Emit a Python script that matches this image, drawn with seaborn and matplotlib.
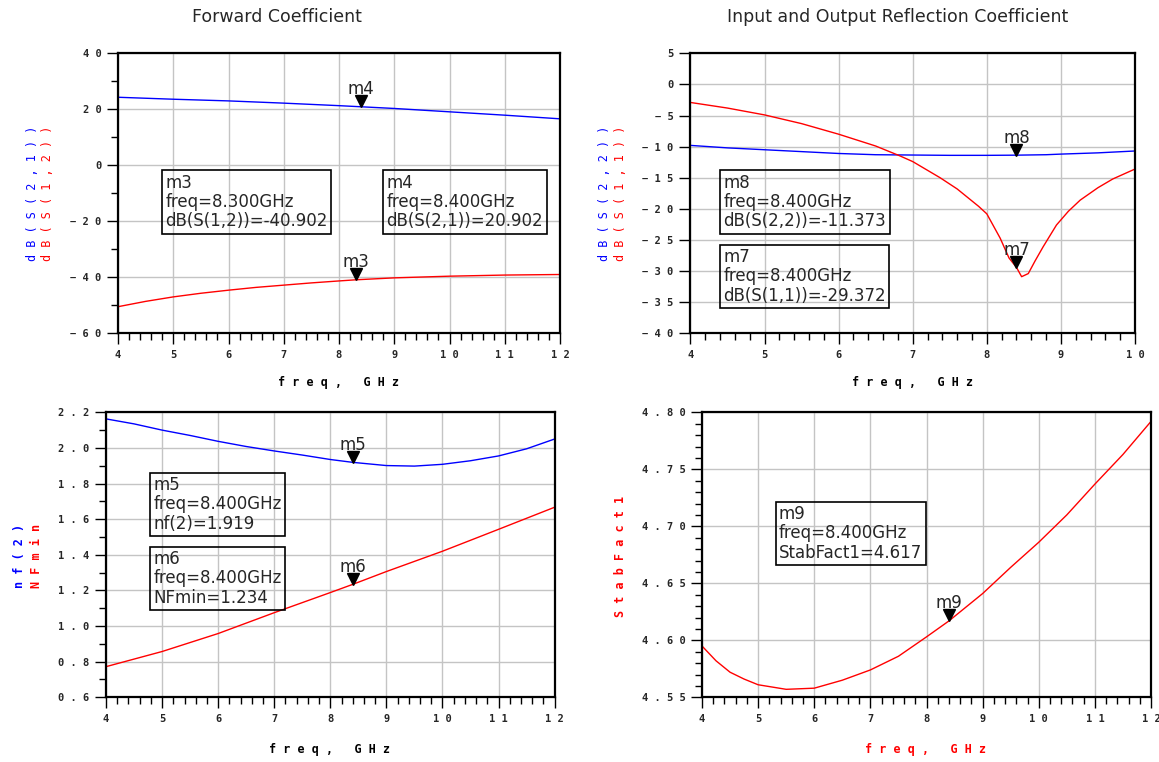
import matplotlib.pyplot as plt
import seaborn as sns
from matplotlib.ticker import MultipleLocator, FuncFormatter
from matplotlib.transforms import offset_copy

W, H = 1159, 762

# --- Forward coefficient (dB) ---
fwd_freq = [4.0, 5.0, 6.0, 7.0, 8.0, 8.4, 9.0, 10.0, 11.0, 12.0]
s21_db = [24.3, 23.6, 23.0, 22.2, 21.3, 20.9, 20.3, 19.1, 17.9, 16.6]
s12_freq = [4.0, 4.5, 5.0, 5.5, 6.0, 6.5, 7.0, 7.5, 8.0, 8.3, 9.0, 10.0, 11.0, 12.0]
s12_db = [-50.5, -48.6, -47.0, -45.7, -44.6, -43.6, -42.8, -42.0, -41.3, -40.9,
          -40.2, -39.6, -39.2, -39.0]

# --- Input / output reflection (dB) ---
s22_freq = [4.0, 4.5, 5.0, 5.5, 6.0, 6.5, 7.0, 7.5, 8.0, 8.4, 8.8, 9.0, 9.5, 10.0]
s22_db = [-9.8, -10.2, -10.5, -10.8, -11.1, -11.3, -11.35, -11.4, -11.4, -11.37,
          -11.3, -11.2, -11.0, -10.7]
s11_freq = [4.0, 4.5, 5.0, 5.5, 6.0, 6.5, 6.83, 7.0, 7.37, 7.6, 7.89, 8.0, 8.18,
            8.3, 8.4, 8.47, 8.56, 8.65, 8.76, 8.94, 9.1, 9.26, 9.5, 9.7, 10.0]
s11_db = [-2.9, -3.8, -4.9, -6.3, -8.0, -9.9, -11.5, -12.4, -15.0, -16.8, -19.6,
          -20.8, -24.7, -27.9, -29.4, -30.9, -30.4, -28.4, -26.1, -22.6, -20.4,
          -18.6, -16.6, -15.2, -13.6]

# --- Noise figure ---
nf_freq = [4.0, 4.5, 5.0, 5.5, 6.0, 6.5, 7.0, 7.5, 8.0, 8.4, 9.0, 9.5, 10.0,
           10.5, 11.0, 11.5, 12.0]
nf2 = [2.163, 2.135, 2.10, 2.07, 2.037, 2.008, 1.983, 1.96, 1.935, 1.919, 1.901,
       1.898, 1.908, 1.928, 1.955, 1.995, 2.05]
nfmin_freq = [4.0, 5.0, 6.0, 7.0, 8.0, 8.4, 9.0, 10.0, 11.0, 12.0]
nfmin = [0.772, 0.857, 0.958, 1.075, 1.188, 1.234, 1.306, 1.42, 1.543, 1.667]

# --- Stability factor ---
k_freq = [4.0, 4.25, 4.5, 4.75, 5.0, 5.5, 6.0, 6.5, 7.0, 7.5, 8.0, 8.4, 9.0,
          9.5, 10.0, 10.5, 11.0, 11.5, 12.0]
stab_fact = [4.595, 4.582, 4.572, 4.566, 4.561, 4.557, 4.558, 4.565, 4.574,
             4.586, 4.603, 4.617, 4.641, 4.664, 4.686, 4.710, 4.737, 4.763, 4.792]

# markers: name, freq, value
markers_fwd = [("m4", 8.4, 20.902), ("m3", 8.3, -40.902)]
markers_refl = [("m8", 8.4, -11.373), ("m7", 8.4, -29.372)]
markers_nf = [("m5", 8.4, 1.919), ("m6", 8.4, 1.234)]
markers_k = [("m9", 8.4, 4.617)]

sns.set_style("white")
plt.rcParams["font.family"] = ["DejaVu Sans"]

BLUE = "#0000ff"
RED = "#ff0000"
MONO = "DejaVu Sans Mono"


def spaced(s):
    return " ".join(s.replace("-", "\u2212"))


def fx(px):
    return px / W


def fy(py):
    return 1 - py / H


def make_axes(fig, box, xlim, ylim, ymajor, yminor, yfmt):
    l, t, r, b = box
    ax = fig.add_axes([fx(l), fy(b), (r - l) / W, (b - t) / H])
    ax.set_xlim(*xlim)
    ax.set_ylim(*ylim)
    ax.xaxis.set_major_locator(MultipleLocator(1))
    ax.xaxis.set_minor_locator(MultipleLocator(0.2))
    ax.yaxis.set_major_locator(MultipleLocator(ymajor))
    if yminor:
        ax.yaxis.set_minor_locator(MultipleLocator(yminor))
    ax.xaxis.set_major_formatter(FuncFormatter(lambda v, p: spaced(f"{v:.0f}")))
    ax.yaxis.set_major_formatter(
        FuncFormatter(lambda v, p: spaced(yfmt.format(0.0 if abs(v) < 1e-9 else v))))
    ax.tick_params(which="major", direction="out", length=8, width=1, color="black",
                   left=True, bottom=True, pad=4)
    ax.tick_params(which="minor", direction="out", length=5, width=1, color="black",
                   left=True, bottom=True)
    for lab in ax.get_xticklabels() + ax.get_yticklabels():
        lab.set_fontfamily(MONO)
        lab.set_fontweight("bold")
        lab.set_fontsize(7.5)
    ax.grid(True, which="major", color="#c4c4c4", linewidth=1)
    ax.set_axisbelow(True)
    for sp in ax.spines.values():
        sp.set_color("black")
        sp.set_linewidth(1.6)
    ax.set_xlabel("")
    ax.set_ylabel("")
    return ax


def add_markers(ax, items):
    fig = ax.figure
    tri = offset_copy(ax.transData, fig=fig, x=0, y=4, units="points")
    for name, x, y in items:
        ax.plot([x], [y], marker="v", ms=8, color="black", linestyle="none",
                transform=tri, clip_on=False, zorder=5)
        ax.annotate(name, xy=(x, y), xytext=(0, 9), textcoords="offset points",
                    ha="center", va="baseline", fontsize=12, zorder=5)


def readout(fig, left, top, text):
    fig.text(fx(left + 3), fy(top + 3), text, ha="left", va="top", fontsize=12,
             linespacing=1.1,
             bbox=dict(boxstyle="square,pad=0.2", fc="none", ec="black", lw=1.2))


fig = plt.figure(figsize=(W / 100, H / 100), dpi=100)

# Forward coefficient
ax1 = make_axes(fig, (118, 53.3, 560, 333.3), (4, 12), (-60, 40), 20, 10, "{:.0f}")
sns.lineplot(x=fwd_freq, y=s21_db, ax=ax1, color=BLUE, linewidth=1)
sns.lineplot(x=s12_freq, y=s12_db, ax=ax1, color=RED, linewidth=1)
add_markers(ax1, markers_fwd)

# Reflection
ax2 = make_axes(fig, (690.4, 53.3, 1135, 333.3), (4, 10), (-40, 5), 5, None, "{:.0f}")
sns.lineplot(x=s22_freq, y=s22_db, ax=ax2, color=BLUE, linewidth=1)
sns.lineplot(x=s11_freq, y=s11_db, ax=ax2, color=RED, linewidth=1)
add_markers(ax2, markers_refl)

# Noise figure
ax3 = make_axes(fig, (106, 412.3, 554.6, 697.3), (4, 12), (0.6, 2.2), 0.2, 0.1, "{:.1f}")
sns.lineplot(x=nf_freq, y=nf2, ax=ax3, color=BLUE, linewidth=1)
sns.lineplot(x=nfmin_freq, y=nfmin, ax=ax3, color=RED, linewidth=1)
add_markers(ax3, markers_nf)

# Stability factor
ax4 = make_axes(fig, (702, 412.3, 1151, 697.3), (4, 12), (4.55, 4.80), 0.05, 0.01, "{:.2f}")
sns.lineplot(x=k_freq, y=stab_fact, ax=ax4, color=RED, linewidth=1)
add_markers(ax4, markers_k)

# titles
fig.text(fx(277), fy(17), "Forward Coefficient", ha="center", va="center", fontsize=12.5)
fig.text(fx(898), fy(17), "Input and Output Reflection Coefficient", ha="center",
         va="center", fontsize=12.5)

# x labels
xl = dict(ha="center", va="center", fontsize=8.5, family=MONO, fontweight="bold")
fig.text(fx(339), fy(383), spaced("freq, GHz"), color="black", **xl)
fig.text(fx(913), fy(383), spaced("freq, GHz"), color="black", **xl)
fig.text(fx(330), fy(749), spaced("freq, GHz"), color="black", **xl)
fig.text(fx(926), fy(749), spaced("freq, GHz"), color=RED, **xl)

# y labels
yl = dict(ha="center", va="center", rotation=90, fontsize=8.5, family=MONO)
fig.text(fx(33), fy(193), spaced("dB(S(2,1))"), color=BLUE, **yl)
fig.text(fx(48), fy(193), spaced("dB(S(1,2))"), color=RED, **yl)
fig.text(fx(605), fy(193), spaced("dB(S(2,2))"), color=BLUE, **yl)
fig.text(fx(621), fy(193), spaced("dB(S(1,1))"), color=RED, **yl)
fig.text(fx(19), fy(556), spaced("nf(2)"), color=BLUE, fontweight="bold", **yl)
fig.text(fx(36), fy(556), spaced("NFmin"), color=RED, fontweight="bold", **yl)
fig.text(fx(620), fy(556), spaced("StabFact1"), color=RED, fontweight="bold", **yl)

# marker readouts
readout(fig, 162.3, 170.7, "m3\nfreq=8.300GHz\ndB(S(1,2))=-40.902")
readout(fig, 383.6, 170.7, "m4\nfreq=8.400GHz\ndB(S(2,1))=20.902")
readout(fig, 720.5, 170.7, "m8\nfreq=8.400GHz\ndB(S(2,2))=-11.373")
readout(fig, 720.5, 245, "m7\nfreq=8.400GHz\ndB(S(1,1))=-29.372")
readout(fig, 150.6, 473, "m5\nfreq=8.400GHz\nnf(2)=1.919")
readout(fig, 150.6, 547, "m6\nfreq=8.400GHz\nNFmin=1.234")
readout(fig, 776, 502, "m9\nfreq=8.400GHz\nStabFact1=4.617")

fig.savefig("out.png", dpi=100)
